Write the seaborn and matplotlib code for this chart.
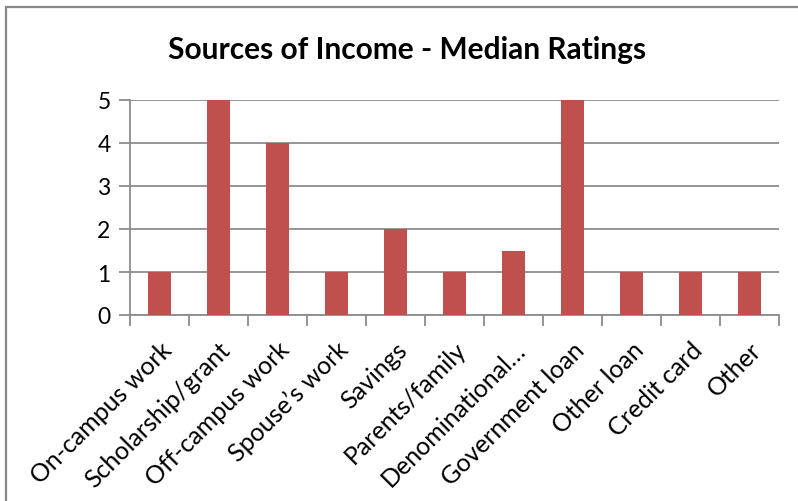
import matplotlib
matplotlib.use("Agg")
import matplotlib.pyplot as plt
import matplotlib.transforms as mtransforms
import seaborn as sns
import pandas as pd
from matplotlib.lines import Line2D

sources = [
    "On-campus work", "Scholarship/grant", "Off-campus work", "Spouse\u2019s work",
    "Savings", "Parents/family", "Denominational\u2026", "Government loan",
    "Other loan", "Credit card", "Other",
]
median_rating = [1, 5, 4, 1, 2, 1, 1.5, 5, 1, 1, 1]
y_ticks = [0, 1, 2, 3, 4, 5]
title = "Sources of Income - Median Ratings"

df = pd.DataFrame({"source": sources, "rating": median_rating})

sns.set_theme(style="white")
plt.rcParams["font.family"] = ["Lato", "DejaVu Sans"]
plt.rcParams["text.color"] = "black"
plt.rcParams["xtick.color"] = "black"
plt.rcParams["ytick.color"] = "black"

fig = plt.figure(figsize=(7.98, 5.02), dpi=100)
ax = fig.add_axes([130 / 798, 1 - 316 / 502, (779 - 130) / 798, (316 - 101) / 502])

sns.barplot(data=df, x="source", y="rating", color="#C0504D", width=0.4,
            saturation=1, linewidth=0, ax=ax, zorder=3)

ax.set_ylim(0, 5)
ax.set_xlim(-0.5, len(sources) - 0.5)
ax.set_yticks(y_ticks)
ax.yaxis.grid(True, color="#8C8C8C", linewidth=1.3, zorder=0)
ax.set_axisbelow(True)
ax.set_xlabel("")
ax.set_ylabel("")

for side in ["top", "right"]:
    ax.spines[side].set_visible(False)
for side in ["left", "bottom"]:
    ax.spines[side].set_color("#8C8C8C")
    ax.spines[side].set_linewidth(1.3)

# tick marks sit at the category boundaries, labels at the centres
ax.set_xticks([i - 0.5 for i in range(len(sources) + 1)], minor=False)
ax.set_xticklabels([])
ax.set_xticks(range(len(sources)), minor=True)
labels = ax.set_xticklabels(sources, minor=True, rotation=45, ha="right",
                            rotation_mode="anchor", fontsize=18)
shift = mtransforms.ScaledTranslation(-5 / 100, 0, fig.dpi_scale_trans)
for lab in labels:
    lab.set_transform(lab.get_transform() + shift)
ax.tick_params(axis="x", which="major", length=8, width=1.3, color="#8C8C8C",
               direction="out", bottom=True)
ax.tick_params(axis="x", which="minor", length=0, pad=16, labelcolor="black")
ax.tick_params(axis="y", length=8, width=1.3, color="#8C8C8C", direction="out",
               left=True, labelsize=16.5, pad=6, labelcolor="black")

fig.suptitle(title, x=407 / 798, y=1 - 50 / 502, va="center",
             fontsize=21.5, fontweight="bold", color="black")

# chart-area frame on the left and top edges
fig.add_artist(Line2D([6 / 798, 6 / 798], [0, 1 - 8 / 502],
                      transform=fig.transFigure, color="#888888", linewidth=1.6))
fig.add_artist(Line2D([6 / 798, 1], [1 - 8 / 502, 1 - 8 / 502],
                      transform=fig.transFigure, color="#888888", linewidth=1.6))

fig.savefig("out.png", dpi=100)
